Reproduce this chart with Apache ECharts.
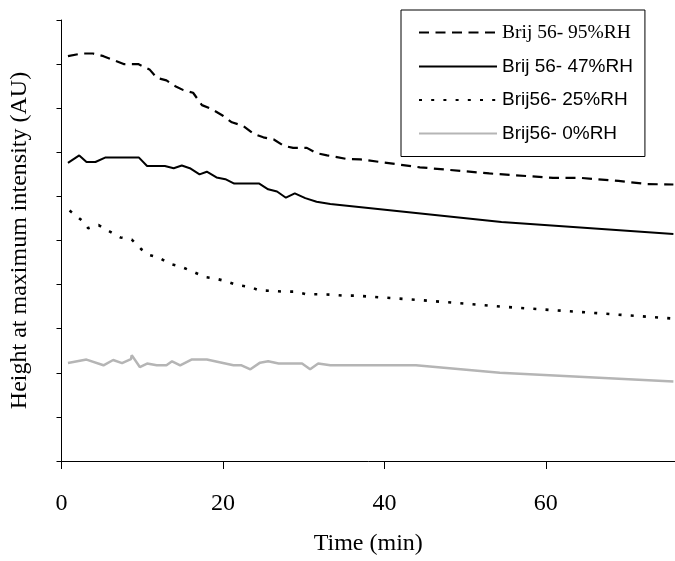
<!DOCTYPE html>
<html>
<head>
<meta charset="utf-8">
<script src="https://cdn.jsdelivr.net/npm/echarts@6/dist/echarts.min.js"></script>
<style>html,body{margin:0;padding:0;background:#fff;}#c{width:675px;height:561px;}</style>
</head>
<body>
<div id="c"></div>
<script>
const seriesNames = ['Brij 56- 95%RH', 'Brij 56- 47%RH', 'Brij56- 25%RH', 'Brij56- 0%RH'];
const xTicks = [0, 20, 40, 60];

const rh95_t = [0.8, 2.5, 3.9, 5.2, 7.7, 9.5, 10.9, 11.8, 13.0, 14.1, 15.1, 16.3, 17.4, 18.6, 19.9, 21.1, 22.5, 23.8, 25.0, 26.3, 27.5, 28.7, 30.4, 31.6, 32.9, 35.3, 37.0, 44.4, 53.0, 60.9, 64.3, 69.0, 72.5, 75.8];
const rh95_v = [9.18, 9.24, 9.24, 9.18, 9.00, 9.00, 8.88, 8.69, 8.63, 8.50, 8.41, 8.35, 8.07, 7.98, 7.84, 7.68, 7.60, 7.42, 7.34, 7.29, 7.15, 7.10, 7.10, 6.98, 6.93, 6.85, 6.84, 6.66, 6.52, 6.42, 6.42, 6.35, 6.28, 6.27];

const rh47_t = [0.8, 2.2, 3.1, 4.2, 5.4, 6.6, 8.1, 9.6, 10.6, 12.8, 13.9, 14.9, 15.9, 17.1, 18.0, 19.2, 20.3, 21.4, 22.8, 24.5, 25.6, 26.7, 27.8, 28.9, 30.2, 31.6, 33.3, 54.5, 75.8];
const rh47_v = [6.76, 6.93, 6.78, 6.78, 6.88, 6.88, 6.88, 6.88, 6.69, 6.69, 6.64, 6.70, 6.64, 6.50, 6.56, 6.43, 6.39, 6.29, 6.29, 6.29, 6.16, 6.11, 5.97, 6.07, 5.96, 5.88, 5.83, 5.42, 5.15];

const rh25_t = [1.0, 2.7, 3.3, 4.6, 6.0, 7.3, 8.7, 9.9, 10.9, 12.1, 13.4, 14.9, 16.3, 17.8, 19.0, 20.5, 21.7, 23.3, 24.5, 25.9, 27.4, 28.9, 30.4, 32.0, 33.5, 34.8, 36.4, 44.4, 54.5, 65.0, 75.8];
const rh25_v = [5.68, 5.43, 5.28, 5.35, 5.20, 5.07, 5.02, 4.80, 4.67, 4.61, 4.47, 4.40, 4.29, 4.17, 4.14, 4.07, 3.99, 3.95, 3.87, 3.86, 3.84, 3.84, 3.78, 3.78, 3.77, 3.75, 3.75, 3.65, 3.50, 3.37, 3.23];

const rh0_t = [0.8, 3.1, 5.2, 6.4, 7.5, 8.6, 8.7, 9.7, 10.6, 11.8, 13.0, 13.7, 14.7, 16.1, 18.0, 21.3, 22.3, 23.4, 24.6, 25.6, 26.9, 29.8, 30.8, 31.8, 33.3, 43.9, 54.3, 75.8];
const rh0_v = [2.22, 2.30, 2.17, 2.29, 2.22, 2.31, 2.40, 2.13, 2.21, 2.17, 2.17, 2.26, 2.17, 2.30, 2.30, 2.17, 2.17, 2.08, 2.23, 2.26, 2.21, 2.21, 2.08, 2.21, 2.17, 2.17, 2.00, 1.80];

function pairs(t, v) { return t.map((x, i) => [x, v[i]]); }

const serif = 'Liberation Serif';
const sans = 'Liberation Sans';
const noSym = {opacity: 0};

const chart = echarts.init(document.getElementById('c'), null, {renderer: 'canvas'});
chart.setOption({
  animation: false,
  backgroundColor: '#fff',
  grid: {left: 61.5, right: 0, top: 20, bottom: 96, containLabel: false},
  legend: {
    orient: 'vertical',
    left: 401, top: 10,
    padding: [12.5, 12, 13.5, 17],
    itemWidth: 78, itemHeight: 14, itemGap: 14.5,
    borderColor: '#000', borderWidth: 1,
    backgroundColor: '#fff',
    itemStyle: noSym,
    textStyle: {fontSize: 19, color: '#000', fontFamily: sans},
    data: [
      {name: seriesNames[0], itemStyle: noSym, textStyle: {fontFamily: serif, fontSize: 19.5}},
      {name: seriesNames[1], itemStyle: noSym},
      {name: seriesNames[2], itemStyle: noSym},
      {name: seriesNames[3], itemStyle: noSym}
    ]
  },
  xAxis: {
    type: 'value', min: 0, max: 76, interval: 20,
    name: 'Time (min)', nameLocation: 'middle', nameGap: 71,
    nameTextStyle: {fontFamily: serif, fontSize: 24, color: '#000'},
    axisLine: {show: true, lineStyle: {color: '#000', width: 1}},
    axisTick: {show: true, length: 8, lineStyle: {color: '#000'}},
    axisLabel: {fontFamily: serif, fontSize: 24, color: '#000', margin: 31, showMaxLabel: false,
      formatter: v => xTicks.indexOf(v) >= 0 ? String(v) : ''},
    splitLine: {show: false}
  },
  yAxis: {
    type: 'value', min: 0, max: 10, interval: 1,
    name: 'Height at maximum intensity (AU)', nameLocation: 'middle', nameGap: 29.5,
    nameTextStyle: {fontFamily: serif, fontSize: 24, color: '#000'},
    axisLine: {show: true, lineStyle: {color: '#000', width: 1}},
    axisTick: {show: true, length: 5, lineStyle: {color: '#000'}},
    axisLabel: {show: false},
    splitLine: {show: false}
  },
  series: [
    {name: seriesNames[0], type: 'line', data: pairs(rh95_t, rh95_v), showSymbol: false, symbol: 'none',
      lineStyle: {color: '#000', width: 2.2, type: [10, 6.5]}, itemStyle: {color: '#000'}},
    {name: seriesNames[1], type: 'line', data: pairs(rh47_t, rh47_v), showSymbol: false, symbol: 'none',
      lineStyle: {color: '#000', width: 2, type: 'solid'}, itemStyle: {color: '#000'}},
    {name: seriesNames[2], type: 'line', data: pairs(rh25_t, rh25_v), showSymbol: false, symbol: 'none',
      lineStyle: {color: '#000', width: 2.6, type: [3, 9.2]}, itemStyle: {color: '#000'}},
    {name: seriesNames[3], type: 'line', data: pairs(rh0_t, rh0_v), showSymbol: false, symbol: 'none',
      lineStyle: {color: '#b5b5b5', width: 2.5, type: 'solid'}, itemStyle: {color: '#b5b5b5'}}
  ]
});
</script>
</body>
</html>
